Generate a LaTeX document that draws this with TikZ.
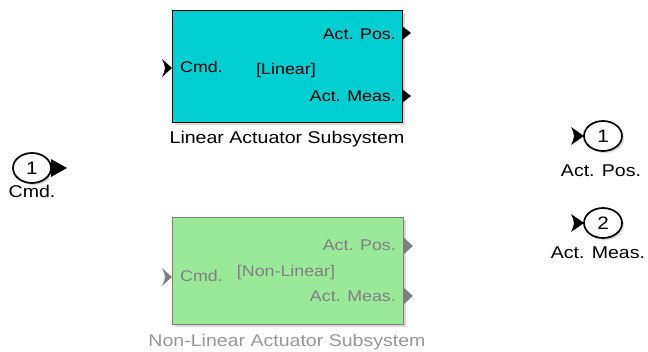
\documentclass[tikz,border=0pt]{standalone}
\usepackage{fontspec}
\setmainfont{Liberation Sans}[FakeStretch=1.15]
\usetikzlibrary{shadows,shapes.geometric}
\definecolor{lincyan}{RGB}{0,206,209}
\definecolor{nlgreen}{RGB}{153,233,153}
\definecolor{nlgray}{RGB}{128,128,128}
\definecolor{nllabel}{RGB}{150,150,150}
\newcommand\sz[1]{\fontsize{#1}{#1}\selectfont}
\tikzset{
  blockbox/.style={draw, line width=1.4pt, anchor=north west, inner sep=0pt,
    drop shadow={shadow xshift=2.5pt, shadow yshift=-2.5pt, opacity=0.3}},
  portlbl/.style={inner sep=0pt, font=\sz{15.5}},
  biglbl/.style={inner sep=0pt, font=\sz{17}},
  portoval/.style={draw, line width=1.7pt, fill=white, ellipse, minimum width=38pt, minimum height=30pt, inner sep=0pt,
    drop shadow={shadow xshift=2pt, shadow yshift=-2pt, opacity=0.3}, font=\sz{18}},
}
\begin{document}
\begin{tikzpicture}[x=1pt,y=-1pt]
\useasboundingbox (0,0) rectangle (648,351);

% Linear subsystem
\node[blockbox, fill=lincyan, minimum width=230pt, minimum height=112pt] (lin) at (172,10) {};
\node[portlbl, anchor=east] (linpos) at (396,34) {Act. Pos.};
\node[portlbl, anchor=east] (linmeas) at (396,96) {Act. Meas.};
\node[portlbl, anchor=west] (lincmd) at (180,67) {Cmd.};
\node[portlbl] (linname) at (286,70) {[Linear]};
\node[biglbl] (lincap) at (287,139) {Linear Actuator Subsystem};
\fill (402,26) -- (411,33) -- (402,40) -- cycle;
\fill (402,89) -- (411,96) -- (402,103) -- cycle;
\fill (162,59) -- (172,68) -- (162,77) .. controls (166,68) .. (162,59) -- cycle;

% Non-linear subsystem (commented out look)
\node[blockbox, draw=nlgray, fill=nlgreen, minimum width=231pt, minimum height=107pt] (nl) at (172,217) {};
\node[portlbl, anchor=east, text=nlgray] (nlpos) at (396,245) {Act. Pos.};
\node[portlbl, anchor=east, text=nlgray] (nlmeas) at (396,296) {Act. Meas.};
\node[portlbl, anchor=west, text=nlgray] (nlcmd) at (180,276) {Cmd.};
\node[portlbl, text=nlgray] (nlname) at (286,272) {[Non-Linear]};
\node[biglbl, text=nllabel] (nlcap) at (287,342) {Non-Linear Actuator Subsystem};
\fill[nlgray] (403,237) -- (413,246) -- (403,255) -- cycle;
\fill[nlgray] (403,287) -- (413,296) -- (403,305) -- cycle;
\fill[nlgray] (162,268) -- (172,277) -- (162,286) .. controls (166,277) .. (162,268) -- cycle;

% Inport 1
\node[portoval] (in1) at (32,168) {1};
\fill (51,159) -- (67,168) -- (51,177) -- cycle;
\node[biglbl] (in1lbl) at (32,191) {Cmd.};

% Outports
\node[portoval] (out1) at (603,136) {1};
\fill (571,127) -- (584,136) -- (571,145) .. controls (575,136) .. (571,127) -- cycle;
\node[biglbl] (out1lbl) at (601,171) {Act. Pos.};

\node[portoval] (out2) at (603,223) {2};
\fill (571,214) -- (584,223) -- (571,232) .. controls (575,223) .. (571,214) -- cycle;
\node[biglbl] (out2lbl) at (598,253) {Act. Meas.};
\end{tikzpicture}
\end{document}
